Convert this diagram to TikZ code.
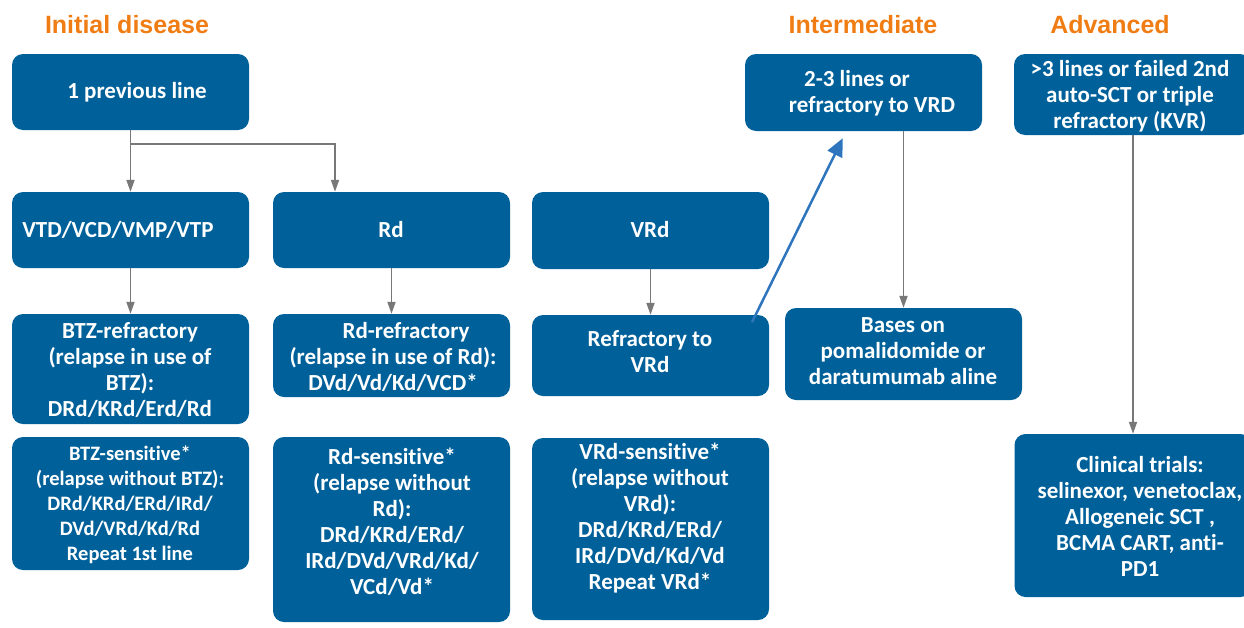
\documentclass[tikz,border=0pt]{standalone}
\usepackage{fontspec}
\setmainfont{Carlito}[RawFeature={-liga}]
\newfontfamily\titlefont{Liberation Sans}
\usetikzlibrary{arrows.meta,calc}
\definecolor{boxblue}{RGB}{0,97,154}
\definecolor{hdorange}{RGB}{240,125,20}
\definecolor{arrgray}{RGB}{120,120,120}
\definecolor{linkblue}{RGB}{46,117,190}
\begin{document}
\begin{tikzpicture}[x=1pt,y=-1pt,
  box/.style={fill=boxblue, rounded corners=11pt, inner sep=0pt, minimum width=237pt},
  txt/.style={text=white, font=\bfseries\fontsize{23}{26}\selectfont, align=center, inner sep=0pt},
  smalltxt/.style={txt, font=\bfseries\fontsize{20.5}{25}\selectfont},
  ttl/.style={text=hdorange, font=\titlefont\bfseries\fontsize{25}{30}\selectfont, inner sep=0pt, anchor=base},
  arr/.style={draw=arrgray, line width=1.8pt, -{Triangle[length=12pt,width=8pt]}},
  blink/.style={draw=linkblue, line width=2.5pt, line cap=round, -{Triangle[length=18pt,width=16pt]}}]
\useasboundingbox (0,0) rectangle (1244,627);
\begin{scope}
\clip (0,0) rectangle (1244,627);
% titles
\node[ttl] (h1) at (127,33) {Initial disease};
\node[ttl] (h2) at (863,33) {Intermediate};
\node[ttl] (h3) at (1110,33) {Advanced};
% boxes
\node[box, minimum height=76pt] (prev) at (130.5,92) {};
\node[box, minimum height=76pt] (vtd) at (130.5,230) {};
\node[box, minimum height=76pt] (rd) at (391.5,230) {};
\node[box, minimum height=77pt] (vrd) at (650.5,230.5) {};
\node[box, minimum height=110pt] (btzr) at (130.5,369) {};
\node[box, minimum height=83pt] (rdr) at (391.5,355.5) {};
\node[box, minimum height=81pt] (vrdr) at (650.5,355.5) {};
\node[box, minimum height=133pt] (btzs) at (130.5,503.5) {};
\node[box, minimum height=185pt] (rds) at (391.5,529.5) {};
\node[box, minimum height=182pt] (vrds) at (650.5,529) {};
\node[box, minimum height=77pt] (inter) at (863.5,92.5) {};
\node[box, minimum height=92pt] (bases) at (903.5,354) {};
\node[box, minimum height=81pt] (adv) at (1132.5,94.5) {};
\node[box, minimum height=163pt] (clin) at (1133,515.5) {};
% texts
\node[txt] (prevT) at (137,92) {1 previous line};
\node[txt] (vtdT) at (118,230) {VTD/VCD/VMP/VTP};
\node[txt] (rdT) at (391,230) {Rd};
\node[txt] (vrdT) at (650,230) {VRd};
\node[txt] (btzrT) at (130,370) {BTZ-refractory\\(relapse in use of\\BTZ):\\DRd/KRd/Erd/Rd};
\node[txt] (rdrT) at (393,357) {\hspace*{26pt}Rd-refractory\\(relapse in use of Rd):\\DVd/Vd/Kd/VCD*};
\node[txt] (vrdrT) at (650,352) {Refractory to\\VRd};
\node[smalltxt] (btzsT) at (130,505) {BTZ-sensitive*\\(relapse without BTZ):\\DRd/KRd/ERd/IRd/\\DVd/VRd/Kd/Rd\\Repeat 1st line};
\node[txt] (rdsT) at (392,522) {Rd-sensitive*\\(relapse without\\Rd):\\DRd/KRd/ERd/\\IRd/DVd/VRd/Kd/\\VCd/Vd*};
\node[txt] (vrdsT) at (650,518) {VRd-sensitive*\\(relapse without\\VRd):\\DRd/KRd/ERd/\\IRd/DVd/Kd/Vd\\Repeat VRd*};
\node[txt] (interT) at (872,93) {2-3 lines or\hspace*{30pt}\\refractory to VRD};
\node[txt] (basesT) at (903,351) {Bases on\\pomalidomide or\\daratumumab aline};
\node[txt] (advT) at (1130,96) {>3 lines or failed 2nd\\auto-SCT or triple\\refractory (KVR)};
\node[txt] (clinT) at (1140,516) {Clinical trials:\\selinexor, venetoclax,\\Allogeneic SCT ,\\BCMA CART, anti-\\PD1};
% connectors
\coordinate (br) at (335,144);
\draw[arr] (prev.south) -- (vtd.north);
\draw[arr] (prev.south |- br) -- (br) -- (br |- rd.north);
\draw[arr] (vtd.south) -- (btzr.north);
\draw[arr] (rd.south) -- (rdr.north);
\draw[arr] (vrd.south) -- (vrdr.north);
\draw[arr] (bases.north |- inter.south) -- (bases.north);
\draw[arr] (clin.north |- adv.south) -- (clin.north);
\draw[blink] ($(vrdr.north east)+(-17,7)$) -- ($(inter.south west)+(98,7)$);
\end{scope}
\end{tikzpicture}
\end{document}
